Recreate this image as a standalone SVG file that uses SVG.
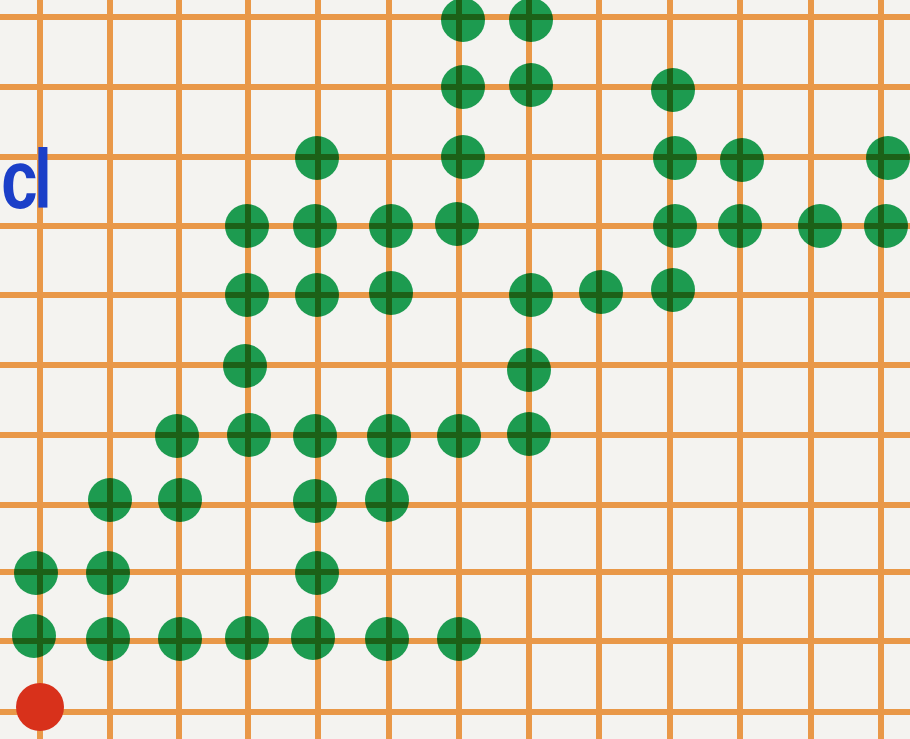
<svg xmlns="http://www.w3.org/2000/svg" width="910" height="739" viewBox="0 0 910 739">
<style>
.g{fill:#1d9b50;}
.grid line{stroke:#f4a04c;stroke-width:6;}
.grid{mix-blend-mode:multiply;}
</style>
<defs><circle id="d" r="22"/></defs>
<rect width="910" height="739" fill="#f4f3f0"/>
<g id="dots" class="g">
<use href="#d" x="463" y="20"/><use href="#d" x="531" y="20"/>
<use href="#d" x="463" y="87"/><use href="#d" x="531" y="85"/><use href="#d" x="673" y="90"/>
<use href="#d" x="317" y="158"/><use href="#d" x="463" y="157"/><use href="#d" x="675" y="158"/><use href="#d" x="742" y="160"/><use href="#d" x="888" y="158"/>
<use href="#d" x="247" y="226"/><use href="#d" x="315" y="226"/><use href="#d" x="391" y="226"/><use href="#d" x="457" y="224"/><use href="#d" x="675" y="226"/><use href="#d" x="740" y="226"/><use href="#d" x="820" y="226"/><use href="#d" x="886" y="226"/>
<use href="#d" x="247" y="295"/><use href="#d" x="317" y="295"/><use href="#d" x="391" y="293"/><use href="#d" x="531" y="295"/><use href="#d" x="601" y="292"/><use href="#d" x="673" y="290"/>
<use href="#d" x="245" y="366"/><use href="#d" x="529" y="370"/>
<use href="#d" x="177" y="436"/><use href="#d" x="249" y="435"/><use href="#d" x="315" y="436"/><use href="#d" x="389" y="436"/><use href="#d" x="459" y="436"/><use href="#d" x="529" y="434"/>
<use href="#d" x="110" y="500"/><use href="#d" x="180" y="500"/><use href="#d" x="315" y="501"/><use href="#d" x="387" y="500"/>
<use href="#d" x="36" y="573"/><use href="#d" x="108" y="573"/><use href="#d" x="317" y="573"/>
<use href="#d" x="34" y="636"/><use href="#d" x="108" y="639"/><use href="#d" x="180" y="639"/><use href="#d" x="247" y="638"/><use href="#d" x="313" y="638"/><use href="#d" x="387" y="639"/><use href="#d" x="459" y="639"/>
</g>
<g id="grid" class="grid">
<line x1="40" y1="0" x2="40" y2="739"/><line x1="110" y1="0" x2="110" y2="739"/><line x1="179" y1="0" x2="179" y2="739"/><line x1="248" y1="0" x2="248" y2="739"/><line x1="318" y1="0" x2="318" y2="739"/><line x1="389" y1="0" x2="389" y2="739"/><line x1="459" y1="0" x2="459" y2="739"/><line x1="529" y1="0" x2="529" y2="739"/><line x1="599" y1="0" x2="599" y2="739"/><line x1="670" y1="0" x2="670" y2="739"/><line x1="740" y1="0" x2="740" y2="739"/><line x1="811" y1="0" x2="811" y2="739"/><line x1="881" y1="0" x2="881" y2="739"/>
<line x1="0" y1="17" x2="910" y2="17"/><line x1="0" y1="87" x2="910" y2="87"/><line x1="0" y1="157" x2="910" y2="157"/><line x1="0" y1="226" x2="910" y2="226"/><line x1="0" y1="295" x2="910" y2="295"/><line x1="0" y1="365" x2="910" y2="365"/><line x1="0" y1="435" x2="910" y2="435"/><line x1="0" y1="505" x2="910" y2="505"/><line x1="0" y1="572" x2="910" y2="572"/><line x1="0" y1="641" x2="910" y2="641"/><line x1="0" y1="712" x2="910" y2="712"/>
</g>
<circle id="red" cx="40" cy="707" r="24" fill="#d8311b"/>
<text transform="translate(1,208) scale(1,1.25)" font-family="Liberation Sans, sans-serif" font-size="66" font-weight="bold" fill="#1b3fc8" letter-spacing="-4">cl</text>
</svg>
